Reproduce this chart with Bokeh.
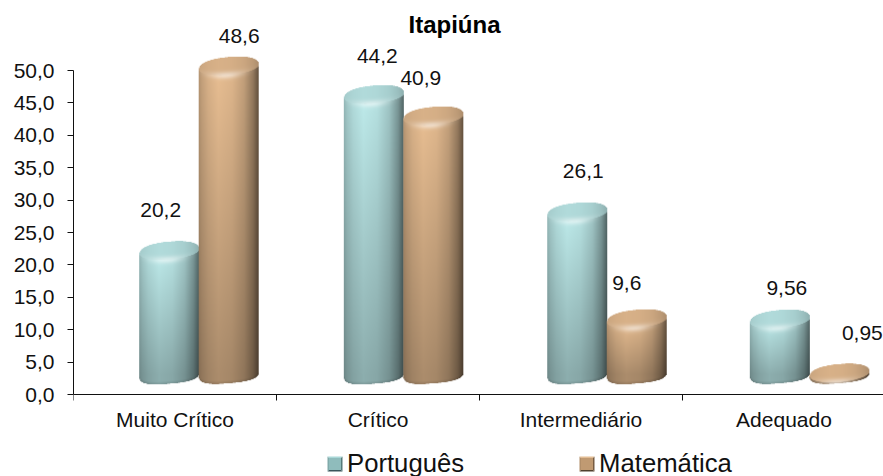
import numpy as np
from bokeh.plotting import figure
from bokeh.core.properties import value
from bokeh.models import (Range1d, LinearAxis, FixedTicker, LabelSet, Label, ColumnDataSource, Legend,
                          LegendItem, PolyAnnotation)
from bokeh.embed import file_html
from bokeh.resources import INLINE

categories = ["Muito Crítico", "Crítico", "Intermediário", "Adequado"]
portugues = [20.2, 44.2, 26.1, 9.56]
matematica = [48.6, 40.9, 9.6, 0.95]
portugues_text = ["20,2", "44,2", "26,1", "9,56"]
matematica_text = ["48,6", "40,9", "9,6", "0,95"]
y_ticks = [0, 5, 10, 15, 20, 25, 30, 35, 40, 45, 50]
title_text = "Itapiúna"

FONT = "Liberation Sans"
FIG_W, FIG_H = 883, 476
LEFT = 73
AXIS_Y = 394                           # page row of the value 0
PX_X = 203.0                           # px per category
PX_Y = 6.48                            # px per axis unit
Y_START = -(FIG_H - AXIS_Y) / PX_Y
Y_END = AXIS_Y / PX_Y
X_END = (FIG_W - LEFT) / PX_X
SHIFT = 1.82                           # 3-D depth offset of the bars on the value axis
BASE = 1.3                             # base of the cylinders on the bar scale
BAR_W = 59.5 / PX_X
PAIR = [0.618, 1.626, 2.628, 3.626]    # centre of each pair of cylinders
PAD = 13.0

p = figure(width=FIG_W, height=FIG_H, output_backend="svg", toolbar_location=None,
           x_range=Range1d(0, X_END), y_range=Range1d(Y_START, Y_END),
           x_axis_location=None, y_axis_location=None,
           min_border_left=LEFT, min_border_right=0, min_border_top=0, min_border_bottom=0,
           outline_line_color=None, background_fill_color="white", border_fill_color="white")
p.grid.visible = False
p.extra_y_ranges = {"bars": Range1d(Y_START - SHIFT, Y_END - SHIFT)}

yaxis = LinearAxis(ticker=FixedTicker(ticks=y_ticks), bounds=(0, 50))
yaxis.major_label_overrides = {t: f"{t},0" for t in y_ticks}
yaxis.major_label_text_font = FONT
yaxis.major_label_text_font_size = "21px"
yaxis.major_label_text_color = "#111111"
yaxis.major_tick_in = 0
yaxis.major_tick_out = 6
yaxis.minor_tick_line_color = None
yaxis.major_label_standoff = 13
yaxis.axis_line_color = "#111111"
yaxis.major_tick_line_color = "#111111"
p.add_layout(yaxis, "left")

mid = [i + 0.5 for i in range(len(categories))]
xaxis = LinearAxis(ticker=FixedTicker(ticks=mid, minor_ticks=list(range(len(categories) + 1))),
                   fixed_location=0)
xaxis.major_label_overrides = dict(zip(mid, categories))
xaxis.major_label_text_font = FONT
xaxis.major_label_text_font_size = "21px"
xaxis.major_label_text_color = "#111111"
xaxis.major_tick_line_color = None
xaxis.major_tick_in = 0
xaxis.major_tick_out = 0
xaxis.minor_tick_in = 0
xaxis.minor_tick_out = 6
xaxis.minor_tick_line_color = "#111111"
xaxis.axis_line_color = "#111111"
xaxis.major_label_standoff = 7
p.add_layout(xaxis, "below")

PROF_U = [-1.0, -0.9, -0.7, -0.35, 0.1, 0.5, 0.8, 0.95, 1.0]
PROF_V = [0.78, 0.85, 0.93, 1.00, 0.96, 0.84, 0.64, 0.47, 0.42]


def cylinder(val, base_rgb):
    """Shaded RGBA picture of one cylinder, its height following the value axis."""
    ss = 4
    hw, b, tilt = 30.0, 10.0, 2.5
    h_px = max((val - BASE) * PX_Y, 0.0)
    H = h_px + 2 * PAD
    W = 2 * hw
    ny, nx = int(round(H * ss)), int(round(W * ss))
    ys, xs = np.mgrid[0:ny, 0:nx]
    y = (ys + .5) / ss
    u = ((xs + .5) / ss - hw) / hw
    ytc, ybc = PAD, PAD + h_px
    au = np.minimum(np.abs(u), 1)
    el = np.sqrt(1 - au ** 2)
    top_edge = ytc - b * (1 - au ** 2.3) ** (1 / 2.3) - tilt * u
    bot_edge = ybc + (b - 0.8) * (1 - au ** 2.8) ** (1 / 2.8) - tilt * u
    mask = (y >= top_edge) & (y <= bot_edge) & (np.abs(u) <= 1)
    prof = np.interp(u, PROF_U, PROF_V)
    rim = ytc + b * 0.8 * el - tilt * u
    d = y - rim
    t = np.clip((y - ytc) / max(h_px, 1e-6), 0, 1)
    body = prof * (1 - 0.26 * t)
    face = (0.65 + 0.35 * prof) * 0.93
    shade = np.where(d < 0, face, body)
    glow = np.exp(-(d / 3.5) ** 2) * np.exp(-((u + 0.1) / 0.55) ** 2) * 0.5
    edge = np.clip(1 - (bot_edge - y) / 3.0, 0, 1) * 0.12
    rgb = np.zeros(y.shape + (4,))
    for k in range(3):
        c = base_rgb[k] * shade * (1 - edge)
        rgb[..., k] = (c + (255 - c) * glow) * mask
    rgb[..., 3] = mask * 255.0
    f = ss // 2
    ny2, nx2 = ny // f, nx // f
    rgb = rgb[:ny2 * f, :nx2 * f].reshape(ny2, f, nx2, f, 4).mean(axis=(1, 3))
    a = np.maximum(rgb[..., 3:] / 255.0, 1e-6)
    out = rgb.copy()
    out[..., :3] = np.clip(rgb[..., :3] / a, 0, 255)
    out = out.round().astype(np.uint8)[::-1]
    img = out[..., 0].astype(np.uint32) | (out[..., 1].astype(np.uint32) << 8) | \
        (out[..., 2].astype(np.uint32) << 16) | (out[..., 3].astype(np.uint32) << 24)
    return img, W / PX_X, H / PX_Y


def add_series(values, texts, side, flat, base_rgb, dx, dy):
    xc = [PAIR[i] + side * BAR_W / 2 for i in range(len(values))]
    src = ColumnDataSource(dict(x=xc, top=values, bottom=[BASE] * len(values)))
    r = p.vbar(x="x", top="top", bottom="bottom", width=BAR_W * 0.4, source=src, y_range_name="bars",
               fill_color=flat, line_color=None)
    for x, v in zip(xc, values):
        img, dw, dh = cylinder(v, base_rgb)
        p.image_rgba(image=[img], x=x - dw / 2, y=BASE - PAD / PX_Y, dw=dw, dh=dh, y_range_name="bars")
    labels = ColumnDataSource(dict(x=xc, y=values, text=texts, dx=dx, dy=dy))
    return r, labels


r1, l1 = add_series(portugues, portugues_text, -1, "#8fbcbc", (190, 235, 235),
                    [-8.5, 3.5, 6, 7], [41.5, 40, 42.5, 32.5])
r2, l2 = add_series(matematica, matematica_text, 1, "#c09a72", (232, 190, 146),
                    [10.5, -12.5, -10, 23], [32, 40, 37, 43.5])
for src in (l1, l2):
    p.add_layout(LabelSet(x="x", y="y", text="text", x_offset="dx", y_offset="dy", source=src,
                          y_range_name="bars", text_font=value(FONT), text_font_size="21px",
                          text_color="#111111", text_align="center", text_baseline="middle"))

# screen units of annotations count from the frame's lower left corner
p.add_layout(Label(x=454 - LEFT, y=FIG_H - 24, x_units="screen", y_units="screen", text=title_text,
                   text_font=FONT, text_font_size="24px", text_font_style="bold", text_color="#000000",
                   text_align="center", text_baseline="middle"))

legend = Legend(items=[LegendItem(label="Português", renderers=[r1]),
                       LegendItem(label="Matemática", renderers=[r2])],
                orientation="horizontal", location=(327 - LEFT, -2), spacing=115,
                padding=0, margin=0, glyph_width=15, glyph_height=15, label_standoff=5, label_height=15,
                label_text_font=FONT, label_text_font_size="25.7px", label_text_color="#111111",
                border_line_color=None, background_fill_alpha=0)
p.add_layout(legend)

for x0, cols in ((327 - LEFT, ("#a9d8d8", "#80aaaa", "#557a7a", "#3a565c")),
                 (579 - LEFT, ("#e3bd94", "#b18e69", "#775c42", "#50402e"))):
    y0, s = 5, 15
    xm, ym = x0 + s / 2, y0 + s / 2
    tris = [([x0, x0 + s, xm], [y0 + s, y0 + s, ym]), ([x0, x0, xm], [y0, y0 + s, ym]),
            ([x0 + s, x0 + s, xm], [y0, y0 + s, ym]), ([x0, x0 + s, xm], [y0, y0, ym])]
    for (xs_, ys_), c in zip(tris, cols):
        p.add_layout(PolyAnnotation(xs=xs_, ys=ys_, xs_units="screen", ys_units="screen",
                                    fill_color=c, fill_alpha=1, line_color=None, editable=False,
                                    level="overlay"))

open("out.html", "w").write(file_html(p, INLINE))
